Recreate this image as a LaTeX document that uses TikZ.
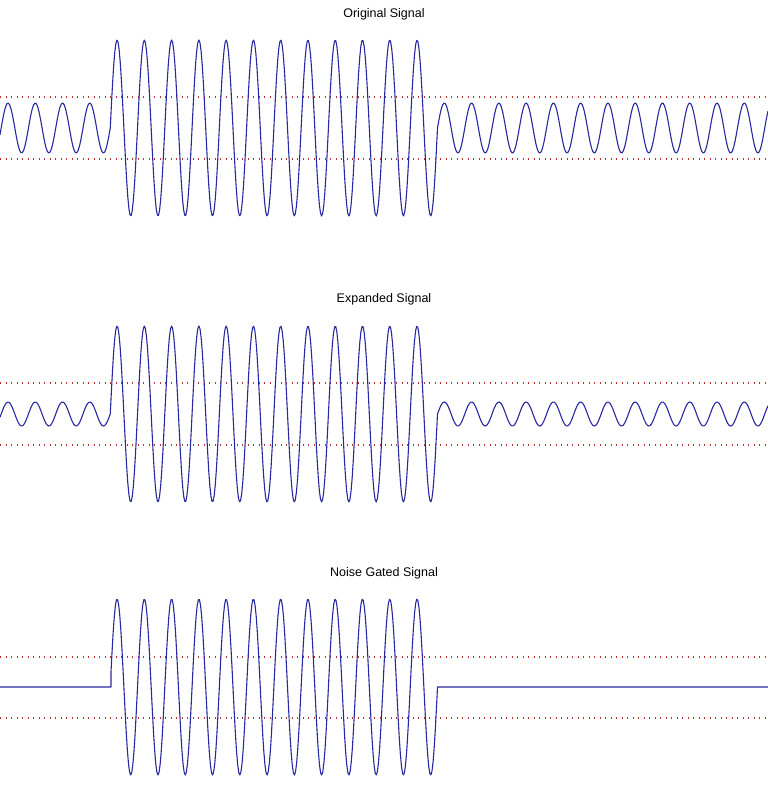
\documentclass[tikz,border=0pt]{standalone}
\usepackage{fontspec}
\setmainfont{Liberation Sans}
\begin{document}
\begin{tikzpicture}[x=1pt,y=-1pt,
  sig/.style={draw={rgb,255:red,40;green,40;blue,160},line width=1.1pt,line join=round},
  thr/.style={draw={rgb,255:red,180;green,50;blue,50},line width=1.1pt,dash pattern=on 1.1pt off 4.4pt},
  ttl/.style={font=\fontsize{12.5}{14}\selectfont}]
\useasboundingbox (0,0) rectangle (768,807);
\def\K{13.2013}
% panel 1
\node[ttl] (t1) at (384,14) {Original Signal};
\draw[thr] (0,97) -- (768,97); \draw[thr] (0,159) -- (768,159);
\draw[sig] plot[domain=0:110.3,samples=80] (\x,{128-25*cos(\K*(\x-8))})
  -- plot[domain=110.3:437.5,samples=300] (\x,{128-88*cos(\K*(\x-8))})
  -- plot[domain=437.5:768,samples=250] (\x,{128-25*cos(\K*(\x-8))});
% panel 2
\node[ttl] (t2) at (384,299) {Expanded Signal};
\draw[thr] (0,383) -- (768,383); \draw[thr] (0,445) -- (768,445);
\draw[sig] plot[domain=0:110.3,samples=80] (\x,{414-12*cos(\K*(\x-8))})
  -- plot[domain=110.3:437.5,samples=300] (\x,{414-88*cos(\K*(\x-8))})
  -- plot[domain=437.5:768,samples=250] (\x,{414-12*cos(\K*(\x-8))});
% panel 3
\node[ttl] (t3) at (384,573) {Noise Gated Signal};
\draw[thr] (0,657) -- (768,657); \draw[thr] (0,718) -- (768,718);
\draw[sig] (0,687) -- (111,687)
  -- plot[domain=111:437.5,samples=300] (\x,{687-88*cos(\K*(\x-8))})
  -- (437.5,687) -- (768,687);
\end{tikzpicture}
\end{document}
